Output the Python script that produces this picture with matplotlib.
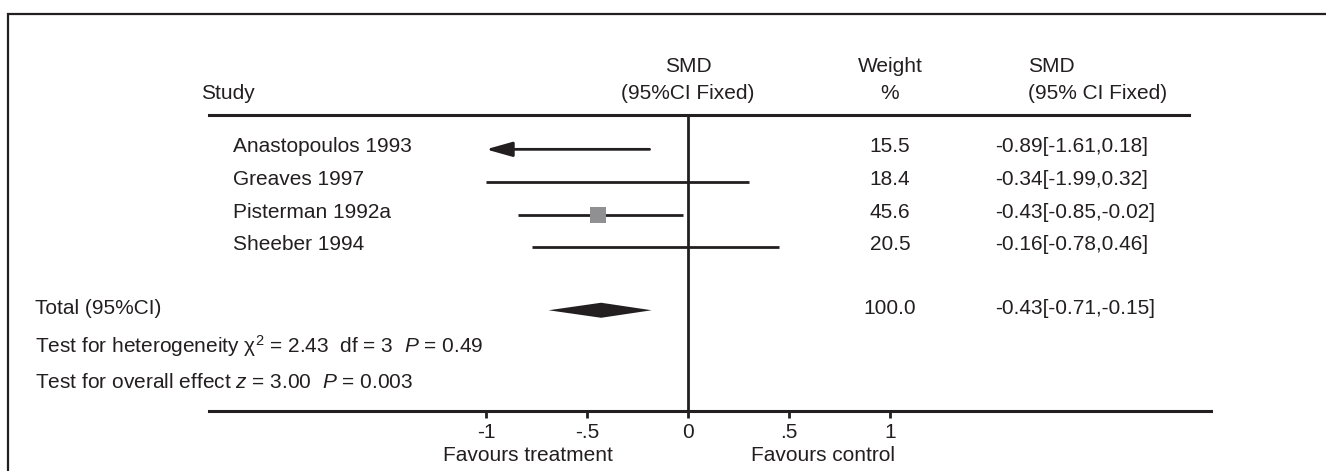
import matplotlib
matplotlib.use("Agg")
import matplotlib.pyplot as plt
from matplotlib.patches import Rectangle, Polygon

plt.rcParams["font.family"] = ["Liberation Sans", "DejaVu Sans"]
plt.rcParams["mathtext.fontset"] = "custom"
plt.rcParams["mathtext.rm"] = "Liberation Sans"
plt.rcParams["mathtext.it"] = "Liberation Sans:italic"

# data
studies = ["Anastopoulos 1993", "Greaves 1997", "Pisterman 1992a", "Sheeber 1994"]
weights = ["15.5", "18.4", "45.6", "20.5"]
smd_ci_text = ["-0.89[-1.61,0.18]", "-0.34[-1.99,0.32]",
               "-0.43[-0.85,-0.02]", "-0.16[-0.78,0.46]"]
ci_low = [-1.0, -1.0, -0.84, -0.77]        # as drawn (clipped at -1)
ci_high = [-0.19, 0.30, -0.025, 0.45]
clipped_arrow = [True, False, False, False]
box_est = [None, None, -0.445, None]       # only visible square
total_est, total_low, total_high = -0.43, -0.69, -0.18
total_weight = "100.0"
total_text = "-0.43[-0.71,-0.15]"
tick_vals = [-1, -0.5, 0, 0.5, 1]
tick_labels = ["-1", "-.5", "0", ".5", "1"]

INK = "#231f20"
FS = 15

study_y = [1.05, 2.05, 3.05, 4.05]
total_y = 5.97
het_y = 7.05
overall_y = 8.17

W, H = 1326, 471
fig = plt.figure(figsize=(W / 100, H / 100), dpi=100)
ax = fig.add_axes([209 / W, 60 / H, (1211 - 209) / W, (411 - 115) / H])
ax.set_xlim(-2.371, 2.589)
ax.set_ylim(9.05, 0)

for s in ["top", "left", "right"]:
    ax.spines[s].set_visible(False)
ax.spines["bottom"].set_linewidth(2.2)
ax.spines["bottom"].set_color(INK)
ax.set_yticks([])
ax.set_xticks(tick_vals)
ax.set_xticklabels(tick_labels, fontsize=FS, color=INK)
ax.tick_params(axis="x", direction="out", length=5, width=2, color=INK, pad=4)

# zero line
ax.axvline(0, color=INK, lw=2)

# header underline
ax.plot([-2.371, 2.48], [0, 0], color=INK, lw=2.2, clip_on=False)

# headers
ax.text(-2.411, -0.67, "Study", fontsize=FS, color=INK, va="center", ha="left", clip_on=False)
ax.text(0, -1.47, "SMD", fontsize=FS, color=INK, va="center", ha="center")
ax.text(0, -0.67, "(95%CI Fixed)", fontsize=FS, color=INK, va="center", ha="center")
ax.text(1.0, -1.47, "Weight", fontsize=FS, color=INK, va="center", ha="center")
ax.text(1.0, -0.67, "%", fontsize=FS, color=INK, va="center", ha="center")
ax.text(1.683, -1.47, "SMD", fontsize=FS, color=INK, va="center", ha="left")
ax.text(1.683, -0.67, "(95% CI Fixed)", fontsize=FS, color=INK, va="center", ha="left")

# study rows
for i, name in enumerate(studies):
    y = study_y[i]
    ax.text(-2.252, y - 0.08, name, fontsize=FS, color=INK, va="center", ha="left")
    if clipped_arrow[i]:
        ax.annotate("", xy=(ci_low[i], y), xytext=(ci_high[i], y),
                    arrowprops=dict(arrowstyle="-|>,head_length=1.6,head_width=0.45",
                                    mutation_scale=10, color=INK, lw=2,
                                    shrinkA=0, shrinkB=0))
    else:
        ax.plot([ci_low[i], ci_high[i]], [y, y], color=INK, lw=2, solid_capstyle="butt")
    if box_est[i] is not None:
        ax.plot(box_est[i], y, marker="s", markersize=11, color="#909092",
                markeredgewidth=0, zorder=3)
    ax.text(1.0, y - 0.08, weights[i], fontsize=FS, color=INK, va="center", ha="center")
    ax.text(1.52, y - 0.08, smd_ci_text[i], fontsize=FS, color=INK, va="center", ha="left")

# total
h = 0.23
diamond = Polygon([(total_low, total_y), (total_est, total_y - h),
                   (total_high, total_y), (total_est, total_y + h)],
                  closed=True, color=INK, lw=0)
ax.add_patch(diamond)
ax.text(-3.233, total_y - 0.05, "Total (95%CI)", fontsize=FS, color=INK,
        va="center", ha="left", clip_on=False)
ax.text(1.0, total_y - 0.05, total_weight, fontsize=FS, color=INK, va="center", ha="center")
ax.text(1.52, total_y - 0.05, total_text, fontsize=FS, color=INK, va="center", ha="left")

ax.text(-3.233, het_y, "Test for heterogeneity χ$^2$ = 2.43  df = 3  $P$ = 0.49",
        fontsize=FS, color=INK, va="center", ha="left", clip_on=False)
ax.text(-3.233, overall_y, "Test for overall effect $z$ = 3.00  $P$ = 0.003",
        fontsize=FS, color=INK, va="center", ha="left", clip_on=False)

# favours labels
ax.text(-0.37, -0.15, "Favours treatment", fontsize=FS, color=INK, ha="right", va="center",
        transform=ax.get_xaxis_transform(), clip_on=False)
ax.text(0.31, -0.15, "Favours control", fontsize=FS, color=INK, ha="left", va="center",
        transform=ax.get_xaxis_transform(), clip_on=False)

# outer frame, clipped at right and bottom
fig.patches.append(Rectangle((8 / W, -0.5), 2, (H - 14) / H + 0.5, transform=fig.transFigure,
                             fill=False, lw=1.6, edgecolor=INK))

fig.savefig("out.png", dpi=100)
